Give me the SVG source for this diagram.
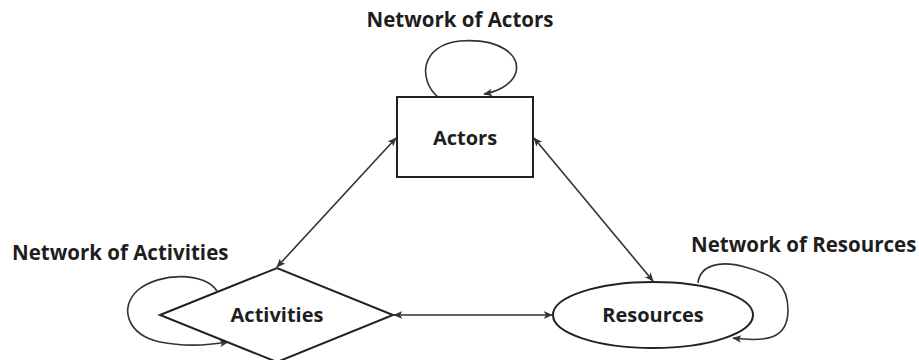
<svg xmlns="http://www.w3.org/2000/svg" width="919" height="360" viewBox="0 0 919 360">
<style>
.shape{fill:#fff;stroke:#222;stroke-width:2}
.edge{fill:none;stroke:#333;stroke-width:1.6}
.lbl{font-family:"Open Sans","Noto Sans",sans-serif;font-weight:700;fill:#1e1e1e}
.big{font-size:20px}
.net{font-size:20.5px}
</style>
<defs>
<marker id="arr" viewBox="0 0 12 10" refX="11" refY="5" markerWidth="9" markerHeight="7.5" orient="auto-start-reverse" markerUnits="userSpaceOnUse">
<path d="M0,0 L12,5 L0,10 L3,5 z" fill="#333"/>
</marker>
</defs>
<rect width="919" height="360" fill="#fff"/>
<g id="connectors">
<line class="edge" x1="277" y1="267" x2="396" y2="138" marker-start="url(#arr)" marker-end="url(#arr)"/>
<line class="edge" x1="534" y1="138" x2="653" y2="281" marker-start="url(#arr)" marker-end="url(#arr)"/>
<line class="edge" x1="394" y1="315" x2="552" y2="315" marker-start="url(#arr)" marker-end="url(#arr)"/>
<path class="edge" d="M438,97 C418,80 420,45 460,41 C500,38 520,55 516,72 C512,86 495,92 484,94" marker-end="url(#arr)"/>
<path class="edge" d="M217,291 C205,272 160,272 138,290 C118,308 128,335 160,342 C185,347 210,345 228,342" marker-end="url(#arr)"/>
<path class="edge" d="M698,283 C700,265 720,260 745,267 C775,275 788,285 788,310 C788,340 765,342 733,338" marker-end="url(#arr)"/>
</g>
<g id="actors">
<rect class="shape" x="397" y="97" width="136" height="80"/>
<text class="lbl big" x="465" y="145" text-anchor="middle">Actors</text>
</g>
<g id="activities">
<polygon class="shape" points="160,315 277,268 393,315 277,362"/>
<text class="lbl big" x="277" y="322" text-anchor="middle">Activities</text>
</g>
<g id="resources">
<ellipse class="shape" cx="653" cy="315" rx="100" ry="33"/>
<text class="lbl big" x="653" y="322" text-anchor="middle">Resources</text>
</g>
<g id="network-labels">
<text class="lbl net" x="460" y="27" text-anchor="middle">Network of Actors</text>
<text class="lbl net" x="12" y="260">Network of Activities</text>
<text class="lbl net" x="691" y="252">Network of Resources</text>
</g>
</svg>
